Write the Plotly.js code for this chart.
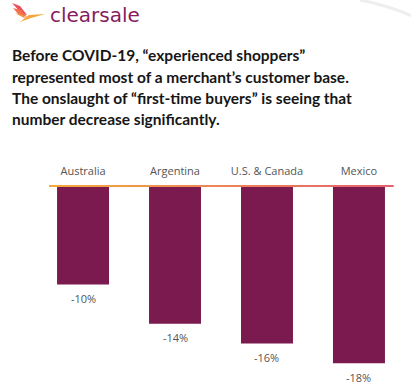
<!DOCTYPE html>
<html>
<head>
<meta charset="utf-8">
<script src="https://cdn.plot.ly/plotly-3.0.1.min.js"></script>
<style>
html,body{margin:0;padding:0;background:#fff;}
#chart{width:411px;height:386px;}
</style>
</head>
<body>
<div id="chart"></div>
<script>
// ---- data ----
const categories = ["Australia", "Argentina", "U.S. & Canada", "Mexico"];
const changes = [-10, -14, -16, -18];
const valueLabels = ["-10%", "-14%", "-16%", "-18%"];
const titleLines = [
  "Before COVID-19, \u201cexperienced shoppers\u201d",
  "represented most of a merchant\u2019s customer base.",
  "The onslaught of \u201cfirst-time buyers\u201d is seeing that",
  "number decrease significantly."
];
const brandName = "clearsale";

// ---- layout geometry (pixels) ----
const W = 411, H = 386;
const L = 49, R = 18, T = 186, B = 13;
const plotW = W - L - R, plotH = H - T - B;
const px2paperX = x => (x - L) / plotW;
const px2paperY = y => (H - B - y) / plotH;

// bird logo helper: absolute px points -> pixel-size path anchored at paper (0,1)
function birdPath(pts) {
  return pts.map((p, i) => (i ? "L" : "M") + (p[0] - L) + "," + (T - p[1])).join(" ") + " Z";
}
function birdShape(pts, color) {
  return {type: "path", xref: "paper", yref: "paper", xsizemode: "pixel", ysizemode: "pixel",
          xanchor: 0, yanchor: 1, path: birdPath(pts), fillcolor: color, line: {width: 0}, layer: "above"};
}

const shapes = [];
// gradient baseline
const nSeg = 40;
const c0 = [245, 170, 60], c1 = [228, 96, 112];
for (let i = 0; i < nSeg; i++) {
  const t = (i + 0.5) / nSeg;
  const c = c0.map((v, k) => Math.round(v + (c1[k] - v) * t));
  shapes.push({type: "line", xref: "paper", yref: "paper", x0: i / nSeg, x1: (i + 1) / nSeg + 0.002,
               y0: 1, y1: 1, line: {color: `rgb(${c.join(",")})`, width: 2}, layer: "above"});
}
// bird logo
shapes.push(birdShape([[12,3],[20,6],[27,15],[22,14]], "#ee4d5c"));
shapes.push(birdShape([[13,8],[21,10],[27,17],[19,15]], "#f2724c"));
shapes.push(birdShape([[15,13],[23,15],[26,19]], "#f59440"));
shapes.push(birdShape([[20,22],[29,15],[45,14],[31,18]], "#f7a53a"));
// faint decorative arc top-right
shapes.push({type: "path", xref: "paper", yref: "paper", xsizemode: "pixel", ysizemode: "pixel",
             xanchor: 0, yanchor: 1, path: `M${360-L},${T-0} Q${390-L},${T-6} ${412-L},${T-16}`,
             line: {color: "#eeeeee", width: 3}, layer: "below"});

const annotations = [];
// brand name
annotations.push({text: brandName, xref: "paper", yref: "paper", x: px2paperX(48), y: px2paperY(14.5),
                  xanchor: "left", yanchor: "middle", showarrow: false,
                  font: {family: "DejaVu Sans", size: 20, color: "#861d5e"}});
// title lines
const lineCenters = [55, 76.5, 98, 119];
titleLines.forEach((t, i) => annotations.push({
  text: "<b>" + t + "</b>", xref: "paper", yref: "paper", x: px2paperX(10), y: px2paperY(lineCenters[i]),
  xanchor: "left", yanchor: "middle", showarrow: false,
  font: {family: "Lato", size: 15.5, color: "#161616"}
}));
// value labels below bars
categories.forEach((c, i) => annotations.push({
  text: valueLabels[i], x: c, y: changes[i], xref: "x", yref: "y",
  xanchor: "center", yanchor: "middle", yshift: -14, showarrow: false,
  font: {family: "Open Sans", size: 11, color: "#555555"}
}));

const trace = {
  type: "bar", x: categories, y: changes,
  marker: {color: "#7b1a4e", line: {width: 0}},
  hoverinfo: "none"
};

const layout = {
  width: W, height: H,
  margin: {l: L, r: R, t: T, b: B, pad: 0},
  paper_bgcolor: "#ffffff", plot_bgcolor: "#ffffff",
  showlegend: false,
  bargap: 0.435,
  xaxis: {type: "category", side: "top", range: [-0.37, 3.37], showline: false, showgrid: false,
          zeroline: false, ticks: "", ticklabelstandoff: 8,
          tickfont: {family: "Open Sans", size: 11, color: "#555555"}},
  yaxis: {range: [-19, 0], visible: false, showgrid: false, zeroline: false},
  shapes: shapes,
  annotations: annotations
};

Plotly.newPlot("chart", [trace], layout, {staticPlot: true, displayModeBar: false});
</script>
</body>
</html>
